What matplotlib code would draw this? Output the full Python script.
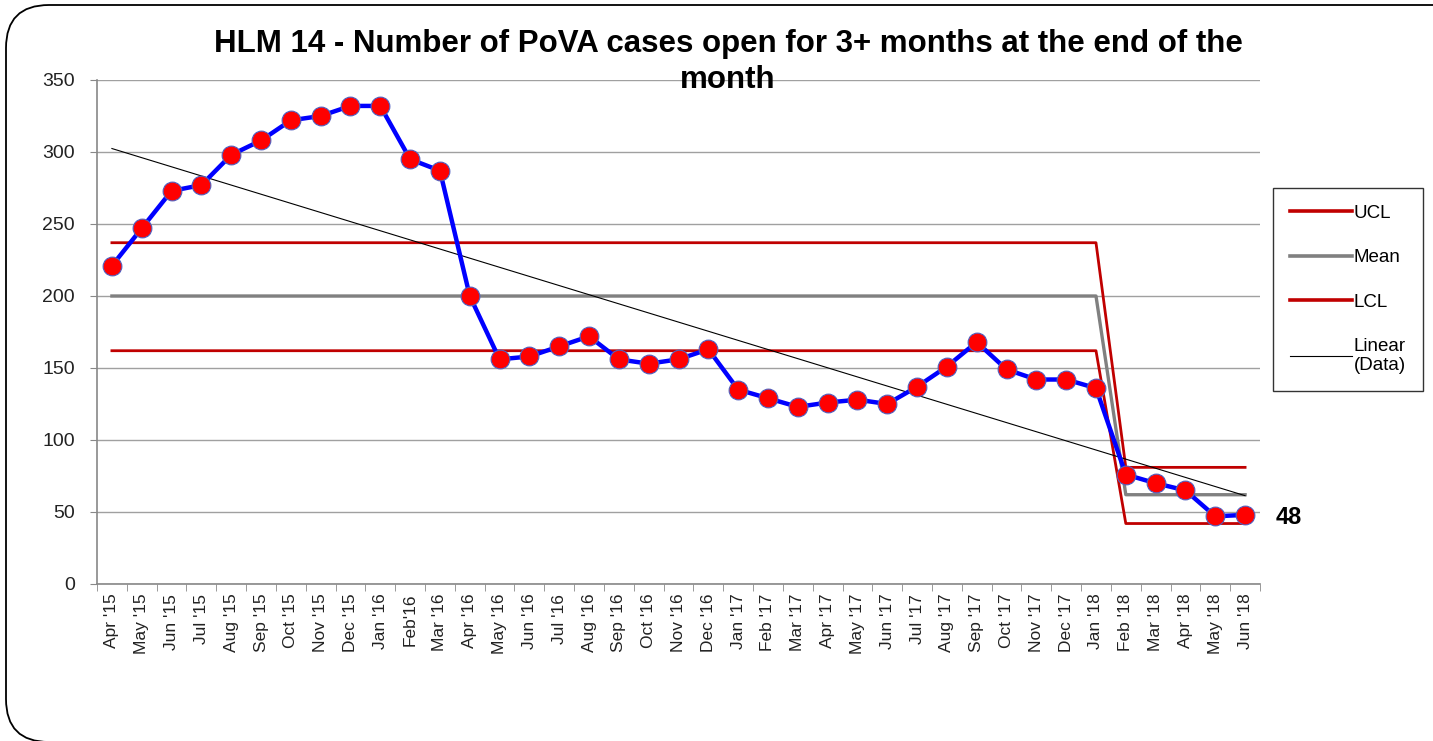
import matplotlib
matplotlib.use("Agg")
import matplotlib.pyplot as plt
import numpy as np
from matplotlib.patches import FancyBboxPatch
from matplotlib.lines import Line2D

plt.rcParams.update({
    "font.family": ["Liberation Sans", "DejaVu Sans"],
    "font.size": 12,
})

months = ["Apr '15", "May '15", "Jun '15", "Jul '15", "Aug '15", "Sep '15", "Oct '15",
          "Nov '15", "Dec '15", "Jan '16", "Feb'16", "Mar '16", "Apr '16", "May '16",
          "Jun '16", "Jul '16", "Aug '16", "Sep '16", "Oct '16", "Nov '16", "Dec '16",
          "Jan '17", "Feb '17", "Mar '17", "Apr '17", "May '17", "Jun '17", "Jul '17",
          "Aug '17", "Sep '17", "Oct '17", "Nov '17", "Dec '17", "Jan '18", "Feb '18",
          "Mar '18", "Apr '18", "May '18", "Jun '18"]

cases = [221, 247, 273, 277, 298, 308, 322, 325, 332, 332, 295, 287,
         200, 156, 158, 165, 172, 156, 153, 156, 163,
         135, 129, 123, 126, 128, 125, 137, 151, 168, 149, 142, 142, 136,
         76, 70, 65, 47, 48]

# control limits per phase; second phase starts at Feb '18
phase_start = 34
ucl_levels = [237, 81]
mean_levels = [200, 62]
lcl_levels = [162, 42]

x = np.arange(len(months))
phase = (x >= phase_start).astype(int)
ucl = np.array(ucl_levels)[phase]
mean = np.array(mean_levels)[phase]
lcl = np.array(lcl_levels)[phase]

# linear trendline through all points
slope, icpt = np.polyfit(x, cases, 1)
trend = slope * x + icpt

fig = plt.figure(figsize=(14.33, 7.41), dpi=100)

# rounded slide frame
frame = FancyBboxPatch((6 / 1433, 1 - 742 / 741), 1.2, 737 / 741,
                       boxstyle="round,pad=0,rounding_size=0.03",
                       transform=fig.transFigure, facecolor="none",
                       edgecolor="black", linewidth=1.3, mutation_aspect=1433 / 741)
fig.patches.append(frame)

ax = fig.add_axes([97 / 1433, 1 - 584 / 741, (1260 - 97) / 1433, (584 - 80) / 741])

ax.plot(x, ucl, color="#C00000", lw=2.0, zorder=3)
ax.plot(x, mean, color="#808080", lw=2.4, zorder=3)
ax.plot(x, lcl, color="#C00000", lw=2.0, zorder=3)
ax.plot(x, trend, color="black", lw=0.8, zorder=4)
ax.plot(x, cases, color="#0000FF", lw=3.2, marker="o", markersize=13.5,
        markerfacecolor="#FF0000", markeredgecolor="#5060C0", markeredgewidth=0.8,
        zorder=5)

ax.annotate(f"{cases[-1]}", xy=(x[-1], cases[-1]), xytext=(22, -2),
            textcoords="offset points", ha="left", va="center",
            fontsize=17, fontweight="bold")

ax.set_xlim(-0.5, len(months) - 0.5)
ax.set_ylim(0, 350)
ax.set_yticks(np.arange(0, 351, 50))
ax.yaxis.grid(True, color="#A0A0A0", lw=1)
ax.set_axisbelow(True)

ax.set_xticks(x)
ax.set_xticklabels(months, rotation=90, fontsize=12.5, color="#222222")
ax.set_xticks(np.arange(-0.5, len(months), 1), minor=True)
ax.tick_params(axis="x", which="major", length=0, pad=7)
ax.tick_params(axis="x", which="minor", length=5, color="#888888")
ax.tick_params(axis="y", length=5, color="#888888", labelsize=14, pad=11,
               labelcolor="#222222")

for s in ["top", "right"]:
    ax.spines[s].set_visible(False)
for s in ["left", "bottom"]:
    ax.spines[s].set_color("#888888")
    ax.spines[s].set_linewidth(1.2)

fig.text(0.508, 1 - 29 / 741,
         "HLM 14 - Number of PoVA cases open for 3+ months at the end of the\nmonth",
         ha="center", va="top", fontsize=22.5, fontweight="bold", linespacing=1.25)

handles = [Line2D([], [], color="#C00000", lw=2.6),
           Line2D([], [], color="#808080", lw=2.6),
           Line2D([], [], color="#C00000", lw=2.6),
           Line2D([], [], color="black", lw=0.8)]
labels = ["UCL", "Mean", "LCL", "Linear\n(Data)"]
leg = fig.legend(handles, labels, loc="upper left",
                 bbox_to_anchor=(1273 / 1433, 1 - 188 / 741),
                 bbox_transform=fig.transFigure, frameon=True, fancybox=False,
                 edgecolor="black", fontsize=13.5, handlelength=3.3,
                 handletextpad=0.1, labelspacing=1.45, borderpad=0.9,
                 borderaxespad=0)
leg.get_frame().set_linewidth(1.0)

fig.savefig("out.png", dpi=100)
